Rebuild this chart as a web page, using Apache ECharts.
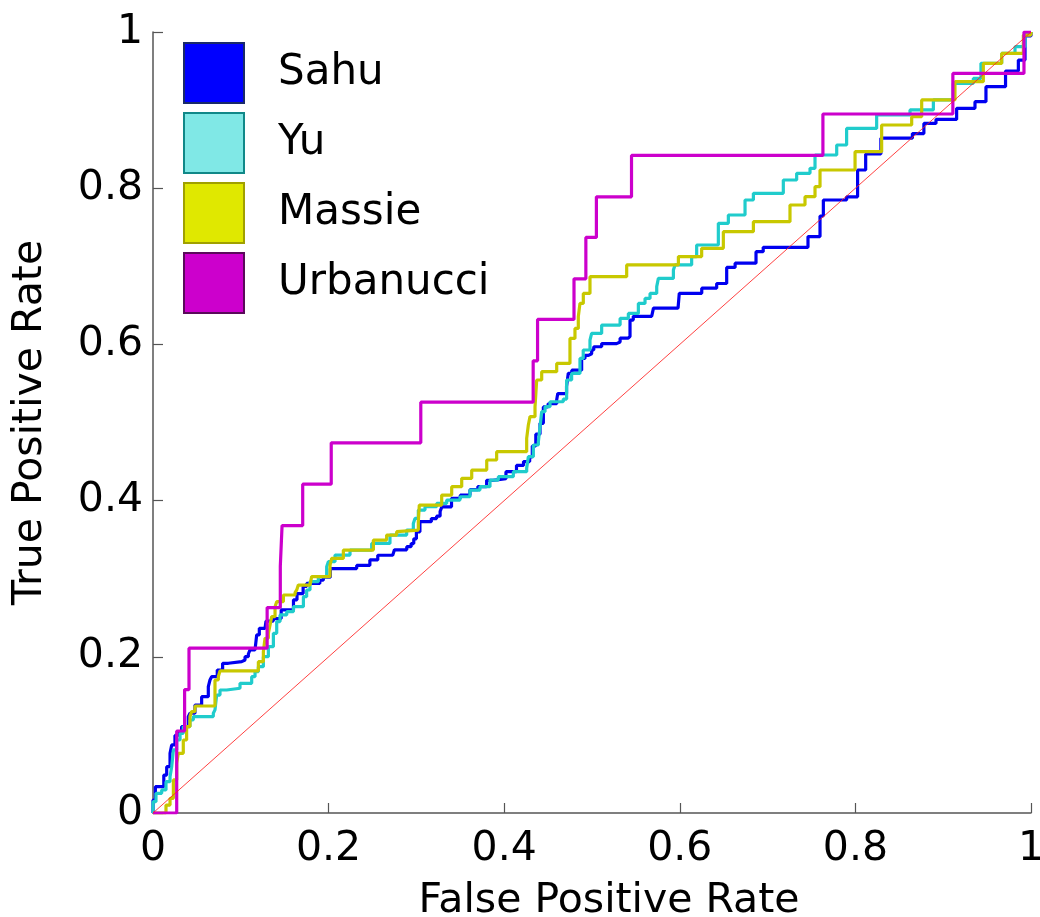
<!DOCTYPE html>
<html>
<head>
<meta charset="utf-8">
<script src="https://cdn.jsdelivr.net/npm/echarts@6/dist/echarts.min.js"></script>
<style>html,body{margin:0;padding:0;background:#fff}#c{width:1040px;height:917px}</style>
</head>
<body>
<div id="c"></div>
<script>
// ROC points: [false positive rate, true positive rate]; each point is the top of a vertical rise
const seriesNames = ['Sahu', 'Yu', 'Massie', 'Urbanucci'];
const xTicks = [0, 0.2, 0.4, 0.6, 0.8, 1];
const yTicks = [0, 0.2, 0.4, 0.6, 0.8, 1];

const sahu = [[0,0],[0,0.0166],[0.0027,0.0337],[0.0123,0.0486],[0.0156,0.0593],[0.0194,0.0764],[0.0213,0.0871],[0.025,0.0993],[0.0288,0.102],[0.0326,0.1106],[0.0402,0.1234],[0.0421,0.1277],[0.0478,0.1383],[0.0554,0.149],[0.063,0.1618],[0.0649,0.1703],[0.0668,0.1746],[0.0732,0.1831],[0.0793,0.1917],[0.0858,0.1938],[0.101,0.1959],[0.1048,0.2002],[0.1086,0.2036],[0.1105,0.2088],[0.1162,0.2109],[0.1181,0.228],[0.1211,0.2365],[0.1276,0.2386],[0.1287,0.2457],[0.137,0.249],[0.146,0.26],[0.16,0.273],[0.164,0.281],[0.171,0.29],[0.175,0.294],[0.19,0.298],[0.194,0.302],[0.202,0.313],[0.232,0.317],[0.247,0.324],[0.256,0.33],[0.273,0.332],[0.275,0.337],[0.289,0.341],[0.294,0.345],[0.297,0.351],[0.3,0.36],[0.304,0.373],[0.317,0.377],[0.323,0.38],[0.327,0.386],[0.329,0.392],[0.34,0.403],[0.35,0.407],[0.361,0.414],[0.37,0.418],[0.38,0.426],[0.387,0.428],[0.402,0.437],[0.414,0.445],[0.422,0.45],[0.429,0.456],[0.432,0.47],[0.436,0.485],[0.4408,0.499],[0.4446,0.52],[0.45,0.524],[0.4598,0.529],[0.461,0.537],[0.471,0.546],[0.473,0.563],[0.477,0.567],[0.4882,0.582],[0.492,0.586],[0.496,0.588],[0.4996,0.5928],[0.502,0.597],[0.511,0.601],[0.528,0.603],[0.532,0.608],[0.541,0.61],[0.5433,0.6312],[0.547,0.636],[0.568,0.638],[0.57,0.6465],[0.598,0.648],[0.5994,0.6654],[0.625,0.672],[0.642,0.678],[0.6534,0.6985],[0.663,0.704],[0.6868,0.7187],[0.695,0.7243],[0.746,0.738],[0.7597,0.7644],[0.7635,0.7849],[0.79,0.789],[0.8025,0.8233],[0.8117,0.8438],[0.829,0.864],[0.8649,0.87],[0.878,0.883],[0.8918,0.888],[0.9153,0.9023],[0.9362,0.9108],[0.9487,0.93],[0.971,0.95],[0.9856,0.964],[0.9932,0.995],[1,1]];

const yu = [[0,0],[0,0.0145],[0.0034,0.0252],[0.0099,0.0295],[0.0148,0.0401],[0.0194,0.0465],[0.0213,0.0593],[0.0232,0.0807],[0.027,0.0935],[0.0308,0.102],[0.0345,0.1106],[0.0421,0.1191],[0.0459,0.1234],[0.0687,0.1277],[0.0706,0.132],[0.0725,0.151],[0.0763,0.1575],[0.0839,0.1597],[0.0991,0.1661],[0.1124,0.1746],[0.1162,0.181],[0.12,0.1874],[0.1257,0.2002],[0.1314,0.213],[0.1371,0.2301],[0.1409,0.2451],[0.1447,0.2536],[0.1523,0.2578],[0.1599,0.2642],[0.1713,0.277],[0.175,0.2855],[0.1788,0.2962],[0.1883,0.3026],[0.1978,0.3154],[0.1997,0.3218],[0.2073,0.3303],[0.2244,0.3367],[0.2491,0.3452],[0.2699,0.3559],[0.2889,0.3623],[0.2965,0.3708],[0.2984,0.3772],[0.3022,0.3879],[0.3098,0.3922],[0.3231,0.3964],[0.3345,0.4007],[0.3497,0.4049],[0.361,0.4135],[0.3724,0.4178],[0.3838,0.4263],[0.3933,0.4306],[0.4104,0.437],[0.4256,0.4413],[0.4275,0.4562],[0.4332,0.4712],[0.4389,0.4754],[0.4408,0.4946],[0.4427,0.5138],[0.4465,0.5202],[0.4522,0.5266],[0.4673,0.53],[0.4711,0.5544],[0.4768,0.5629],[0.4863,0.582],[0.49,0.5928],[0.4977,0.6056],[0.4996,0.6141],[0.511,0.6248],[0.532,0.6333],[0.5414,0.6397],[0.5528,0.6525],[0.5604,0.6589],[0.5661,0.6653],[0.5737,0.6739],[0.5756,0.6845],[0.5927,0.6953],[0.5946,0.7017],[0.6135,0.7124],[0.6192,0.7273],[0.6439,0.755],[0.6553,0.7657],[0.6743,0.7849],[0.6838,0.7934],[0.7179,0.8105],[0.7331,0.819],[0.7483,0.8254],[0.754,0.8425],[0.7787,0.8553],[0.79,0.8766],[0.8242,0.8937],[0.8622,0.9002],[0.8888,0.913],[0.9115,0.9342],[0.9343,0.9406],[0.943,0.96],[0.9666,0.9726],[0.9818,0.9812],[0.9932,0.998],[1,1]];

const massie = [[0,0],[0.0148,0.0102],[0.0194,0.0188],[0.0232,0.0423],[0.027,0.0636],[0.0288,0.0764],[0.0345,0.0935],[0.0383,0.1106],[0.0421,0.1234],[0.044,0.1298],[0.0478,0.137],[0.0706,0.1703],[0.0744,0.1746],[0.0763,0.182],[0.12,0.1938],[0.1257,0.2066],[0.1276,0.2237],[0.1314,0.2301],[0.1333,0.2408],[0.1352,0.2514],[0.139,0.2642],[0.1409,0.2706],[0.1485,0.2791],[0.1618,0.2821],[0.1637,0.2856],[0.1655,0.2919],[0.1788,0.294],[0.1807,0.3026],[0.2016,0.3175],[0.2035,0.326],[0.2168,0.3367],[0.251,0.3495],[0.2661,0.3559],[0.2775,0.3602],[0.2795,0.3623],[0.3022,0.373],[0.3033,0.3943],[0.3288,0.4071],[0.3402,0.4178],[0.3516,0.4285],[0.363,0.4391],[0.3801,0.452],[0.3914,0.4626],[0.4256,0.4797],[0.4275,0.4968],[0.4294,0.5075],[0.4351,0.52],[0.437,0.5544],[0.4427,0.5651],[0.4598,0.5757],[0.4749,0.6077],[0.4806,0.6205],[0.4844,0.6355],[0.4863,0.6525],[0.4901,0.6653],[0.4977,0.6867],[0.5395,0.7017],[0.5984,0.7124],[0.6249,0.723],[0.6496,0.7443],[0.6838,0.7571],[0.7255,0.7785],[0.7426,0.7891],[0.754,0.8019],[0.7597,0.8233],[0.7996,0.8468],[0.8299,0.8809],[0.8641,0.8916],[0.8755,0.913],[0.9134,0.9364],[0.9457,0.9598],[0.9666,0.9726],[0.9913,0.996],[1,1]];

const urbanucci = [[0,0],[0.027,0.105],[0.036,0.158],[0.041,0.211],[0.13,0.263],[0.145,0.316],[0.147,0.368],[0.1705,0.421],[0.203,0.474],[0.305,0.526],[0.433,0.579],[0.438,0.632],[0.4795,0.684],[0.493,0.737],[0.505,0.789],[0.545,0.842],[0.763,0.895],[0.911,0.947],[0.992,1],[1,1]];

const chance = [[0,0],[1,1]];

const lineColors = ['#0000f0', '#20cccc', '#c8c800', '#cc00cc'];
const iconFills = ['#0000ff', '#80e8e6', '#e0e800', '#cc00cc'];
const iconBorders = ['#1a2a6a', '#108888', '#a0a000', '#5a0a5a'];
const allData = [sahu, yu, massie, urbanucci];

const FONT = 'DejaVu Sans';
const chart = echarts.init(document.getElementById('c'), null, {renderer: 'canvas'});

const series = seriesNames.map((n, i) => ({
  name: n,
  type: 'line',
  step: 'end',
  data: allData[i],
  showSymbol: false,
  symbol: 'none',
  animation: false,
  lineStyle: {color: lineColors[i], width: 3.2},
  itemStyle: {color: lineColors[i]}
}));
series.push({
  name: 'chance',
  type: 'line',
  data: chance,
  showSymbol: false,
  symbol: 'none',
  animation: false,
  lineStyle: {color: '#ff2020', width: 1, opacity: 0.85}
});

chart.setOption({
  animation: false,
  backgroundColor: '#ffffff',
  textStyle: {fontFamily: FONT},
  grid: {left: 153, right: 9, top: 32, bottom: 104, containLabel: false, outerBoundsMode: 'none'},
  legend: {
    orient: 'vertical',
    left: 183,
    top: 42,
    padding: 0,
    icon: 'rect',
    itemWidth: 60,
    itemHeight: 60,
    itemGap: 8,
    selectedMode: false,
    textStyle: {fontFamily: FONT, fontSize: 42, color: '#000', padding: [0, 0, 0, 29]},
    data: seriesNames.map((n, i) => ({
      name: n,
      icon: 'rect',
      itemStyle: {color: iconFills[i], borderColor: iconBorders[i], borderWidth: 2}
    }))
  },
  xAxis: {
    type: 'value',
    min: xTicks[0],
    max: xTicks[xTicks.length - 1],
    interval: 0.2,
    name: 'False Positive Rate',
    nameLocation: 'middle',
    nameGap: 68,
    nameTextStyle: {fontFamily: FONT, fontSize: 41, color: '#000', padding: [0, 0, 0, 34]},
    axisLine: {show: true, lineStyle: {color: '#555', width: 1.5}},
    axisTick: {show: true, inside: true, length: 10, lineStyle: {color: '#555', width: 1.2}},
    axisLabel: {fontFamily: FONT, fontSize: 41, color: '#000', margin: 16,
      formatter: v => String(+v.toFixed(1))},
    splitLine: {show: false}
  },
  yAxis: {
    type: 'value',
    min: yTicks[0],
    max: yTicks[yTicks.length - 1],
    interval: 0.2,
    name: 'True Positive Rate',
    nameLocation: 'middle',
    nameGap: 102,
    nameTextStyle: {fontFamily: FONT, fontSize: 41, color: '#000'},
    axisLine: {show: true, lineStyle: {color: '#555', width: 1.5}},
    axisTick: {show: true, inside: true, length: 10, lineStyle: {color: '#555', width: 1.2}},
    axisLabel: {fontFamily: FONT, fontSize: 41, color: '#000', margin: 10,
      formatter: v => String(+v.toFixed(1))},
    splitLine: {show: false}
  },
  series: series
});
</script>
</body>
</html>
